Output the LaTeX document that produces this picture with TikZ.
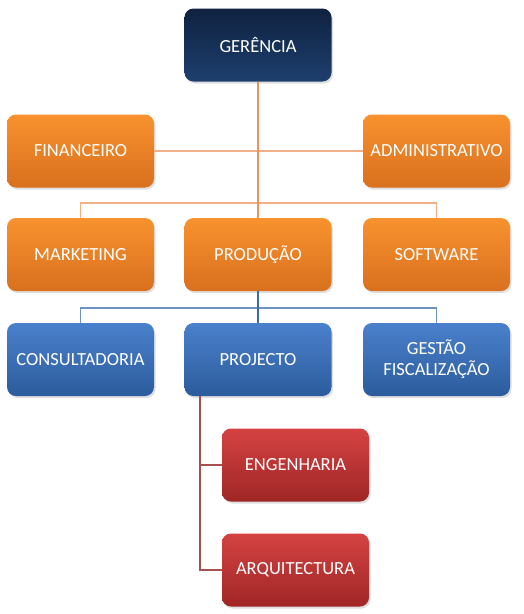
\documentclass[tikz,border=0pt]{standalone}
\usepackage{fontspec}
\setmainfont{Carlito}
\usetikzlibrary{shadows}
\definecolor{navyT}{HTML}{0F2240}
\definecolor{navyB}{HTML}{1E3F6E}
\definecolor{orT}{HTML}{F8922E}
\definecolor{orB}{HTML}{D8701E}
\definecolor{blT}{HTML}{4A80CC}
\definecolor{blB}{HTML}{2C5C9C}
\definecolor{rdT}{HTML}{D44242}
\definecolor{rdB}{HTML}{A02626}
\definecolor{orLine}{HTML}{F2B088}
\definecolor{orLineD}{HTML}{E8945C}
\definecolor{blLine}{HTML}{6E93C2}
\definecolor{blLineD}{HTML}{3F6AA5}
\definecolor{rdLine}{HTML}{A85050}
\tikzset{
  box/.style={rounded corners=9pt, minimum width=147pt, minimum height=73pt,
    inner sep=2pt, align=center, text=white, font=\fontsize{18.5}{21}\selectfont,
    drop shadow={shadow xshift=1.5pt, shadow yshift=-2pt, opacity=0.25}},
  navybox/.style={box, top color=navyT, bottom color=navyB},
  orbox/.style={box, top color=orT, bottom color=orB},
  blbox/.style={box, top color=blT, bottom color=blB},
  rdbox/.style={box, top color=rdT, bottom color=rdB},
  orln/.style={draw=orLine, line width=1.2pt},
  orlnd/.style={draw=orLineD, line width=1.5pt},
  blln/.style={draw=blLine, line width=1.2pt},
  bllnd/.style={draw=blLineD, line width=1.5pt},
  rdln/.style={draw=rdLine, line width=1.2pt},
}
\begin{document}
\begin{tikzpicture}[x=1pt,y=-1pt]
\useasboundingbox (0,0) rectangle (524,614);
\coordinate (hA) at (258,203);
\coordinate (bA) at (258,308);
\coordinate (r1) at (200,465);
\coordinate (r2) at (200,570);

\node[navybox] (ger) at (258,45) {GERÊNCIA};
\node[orbox] (fin) at (80.5,151) {FINANCEIRO};
\node[orbox] (adm) at (436.5,151) {ADMINISTRATIVO};
\node[orbox] (mkt) at (80.5,254.5) {MARKETING};
\node[orbox] (pro) at (258,254.5) {PRODUÇÃO};
\node[orbox] (sw) at (436.5,254.5) {SOFTWARE};
\node[blbox] (con) at (80.5,359.5) {CONSULTADORIA};
\node[blbox] (prj) at (258,359.5) {PROJECTO};
\node[blbox] (ges) at (436.5,359.5) {GESTÃO\\FISCALIZAÇÃO};
\node[rdbox] (eng) at (295.5,465) {ENGENHARIA};
\node[rdbox] (arq) at (295.5,570) {ARQUITECTURA};

% level 1 connectors
\draw[orln] (fin.east) -- (adm.west);
\draw[orln] (mkt.north) |- (hA) -| (sw.north);
\draw[orlnd] (ger.south) -- (pro.north);
% level 2 connectors
\draw[blln] (con.north) |- (bA) -| (ges.north);
\draw[bllnd] (pro.south) -- (prj.north);
% level 3 connectors
\draw[rdln] (prj.south -| r1) -- (r2) -- (arq.west);
\draw[rdln] (r1) -- (eng.west);
\end{tikzpicture}
\end{document}
